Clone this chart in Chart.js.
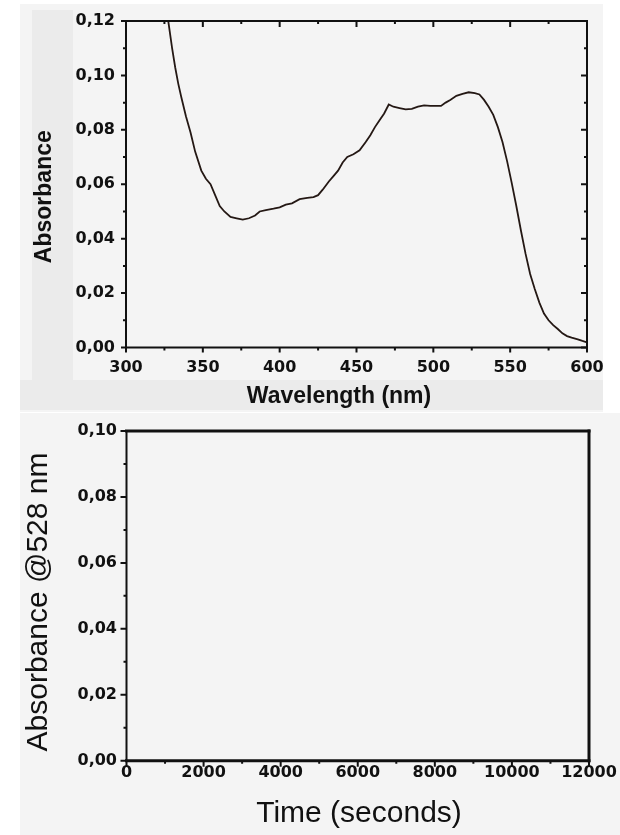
<!DOCTYPE html>
<html>
<head>
<meta charset="utf-8">
<script src="https://cdn.jsdelivr.net/npm/chart.js@4/dist/chart.umd.min.js"></script>
<style>
    body { margin: 0; background: #ffffff; width: 620px; height: 835px; position: relative; overflow: hidden; }
    .bg { position: absolute; }
    #topPanel { left: 20px; top: 4px; width: 583px; height: 408px; background: #f4f4f4; }
    #leftStrip { left: 32px; top: 10px; width: 41px; height: 370px; background: #ebebeb; }
    #bottomStrip { left: 20px; top: 380px; width: 583px; height: 30px; background: #ebebeb; }
    #bottomPanel { left: 20px; top: 413px; width: 600px; height: 422px; background: #f4f4f4; }
    #spectrumChart { position: absolute; left: 20px; top: 4px; }
    #kineticsChart { position: absolute; left: 20px; top: 413px; }
</style>
</head>
<body>
<div class="bg" id="topPanel"></div>
<div class="bg" id="leftStrip"></div>
<div class="bg" id="bottomStrip"></div>
<div class="bg" id="bottomPanel"></div>
<canvas id="spectrumChart" width="583" height="406"></canvas>
<canvas id="kineticsChart" width="600" height="422"></canvas>
<script>
// Spectrum
const wavelengths = [325, 327.5, 330, 332, 334, 336, 339, 342, 345, 349, 352, 355, 358, 361, 364, 368,
    372, 376, 380, 384, 387, 391, 396, 400, 404, 408, 413, 418, 422, 425, 428, 432, 435, 438, 441, 444,
    448, 452, 456, 459, 462, 465, 468, 471, 474, 478, 482, 486, 490, 494, 498, 502, 505, 508, 511, 515,
    519, 523, 527, 530, 533, 536, 539, 542, 545, 548, 551, 554, 557, 560, 563, 566, 569, 572, 575, 578,
    581, 584, 587, 590, 594, 597, 600];
const absorbance = [0.128, 0.120, 0.110, 0.103, 0.097, 0.092, 0.085, 0.079, 0.072, 0.065, 0.062, 0.060,
    0.056, 0.052, 0.050, 0.048, 0.0475, 0.047, 0.0475, 0.0485, 0.050, 0.0505, 0.051, 0.0515, 0.0525, 0.053,
    0.0545, 0.055, 0.0553, 0.056, 0.058, 0.061, 0.063, 0.065, 0.068, 0.070, 0.071, 0.0725, 0.0755, 0.078,
    0.081, 0.0835, 0.086, 0.0893, 0.0885, 0.088, 0.0875, 0.0877, 0.0885, 0.089, 0.0888, 0.0888, 0.0888,
    0.090, 0.091, 0.0925, 0.0932, 0.0938, 0.0935, 0.093, 0.091, 0.0885, 0.0855, 0.081, 0.0755, 0.0685,
    0.0605, 0.052, 0.043, 0.0345, 0.027, 0.0215, 0.0165, 0.0125, 0.010, 0.0082, 0.0068, 0.0052, 0.0042,
    0.0036, 0.003, 0.0024, 0.0019];

// Tick values
const waveTicks = [300, 350, 400, 450, 500, 550, 600];
const absTicks = [0, 0.02, 0.04, 0.06, 0.08, 0.10, 0.12];
const timeTicks = [0, 2000, 4000, 6000, 8000, 10000, 12000];
const abs528Ticks = [0, 0.02, 0.04, 0.06, 0.08, 0.10];

// Kinetics trace at 528 nm (empty in the picture)
const times = [];
const abs528 = [];

const tickFont = { family: 'DejaVu Sans', weight: 'bold', size: 16 };
const inkColor = '#111111';

function midpoints(arr) {
    const out = [];
    for (let i = 0; i < arr.length - 1; i++) out.push((arr[i] + arr[i + 1]) / 2);
    return out;
}

const comma = v => v.toFixed(2).replace('.', ',');

// frame, minor/major ticks and axis titles
const frameAndTicks = {
    id: 'frameAndTicks',
    afterDraw(chart, args, opts) {
        const { ctx, chartArea: area, scales } = chart;
        ctx.save();
        ctx.strokeStyle = opts.color;

        opts.marks.forEach(m => {
            const scale = scales[m.axis];
            ctx.lineWidth = m.width;
            ctx.lineCap = 'butt';
            ctx.beginPath();
            m.values.forEach(v => {
                const p = scale.getPixelForValue(v);
                if (m.side === 'bottom') { ctx.moveTo(p, area.bottom); ctx.lineTo(p, area.bottom + m.len); }
                if (m.side === 'top') { ctx.moveTo(p, area.top); ctx.lineTo(p, area.top - m.len); }
                if (m.side === 'left') { ctx.moveTo(area.left, p); ctx.lineTo(area.left - m.len, p); }
                if (m.side === 'right') { ctx.moveTo(area.right, p); ctx.lineTo(area.right + m.len, p); }
            });
            ctx.stroke();
        });

        ctx.lineCap = 'square';
        const f = opts.frame;
        const side = (w, x1, y1, x2, y2) => {
            if (!w) return;
            ctx.lineWidth = w;
            ctx.beginPath();
            ctx.moveTo(x1, y1);
            ctx.lineTo(x2, y2);
            ctx.stroke();
        };
        side(f.top, area.left, area.top, area.right, area.top);
        side(f.right, area.right, area.top, area.right, area.bottom);
        side(f.bottom, area.left, area.bottom, area.right, area.bottom);
        side(f.left, area.left, area.top, area.left, area.bottom);

        ctx.fillStyle = opts.color;
        ctx.textAlign = 'center';
        ctx.textBaseline = 'alphabetic';
        opts.titles.forEach(t => {
            ctx.save();
            ctx.font = t.font;
            ctx.translate(t.x, t.y);
            if (t.rotate) ctx.rotate(-Math.PI / 2);
            ctx.fillText(t.text, 0, 0);
            ctx.restore();
        });
        ctx.restore();
    }
};

function fixedScale(size, horizontal, values) {
    return {
        afterBuildTicks: scale => { scale.ticks = values.map(v => ({ value: v })); },
        afterFit: scale => {
            if (horizontal) scale.height = size; else scale.width = size;
            scale.paddingLeft = 0; scale.paddingRight = 0;
            scale.paddingTop = 0; scale.paddingBottom = 0;
        }
    };
}

const noGrid = { display: false, drawTicks: false };

const spectrumChart = new Chart('spectrumChart', {
    type: 'line',
    data: {
        datasets: [{
            data: wavelengths.map((w, i) => ({ x: w, y: absorbance[i] })),
            borderColor: '#241814',
            borderWidth: 1.8,
            pointRadius: 0,
            tension: 0
        }]
    },
    options: {
        responsive: false,
        animation: false,
        devicePixelRatio: 1,
        events: [],
        layout: { padding: { top: 17, right: 16, left: 0, bottom: 0 } },
        plugins: {
            legend: { display: false },
            tooltip: { enabled: false },
            frameAndTicks: {
                color: inkColor,
                frame: { top: 2, right: 2, bottom: 2, left: 2 },
                marks: [
                    { axis: 'x', side: 'bottom', values: waveTicks, len: 5, width: 2 },
                    { axis: 'x', side: 'bottom', values: midpoints(waveTicks), len: 3, width: 2 },
                    { axis: 'x', side: 'top', values: waveTicks, len: -6, width: 2 },
                    { axis: 'x', side: 'top', values: midpoints(waveTicks), len: -3, width: 2 },
                    { axis: 'y', side: 'left', values: absTicks, len: 5, width: 2 },
                    { axis: 'y', side: 'left', values: midpoints(absTicks), len: 3, width: 2 },
                    { axis: 'y', side: 'right', values: absTicks, len: -6, width: 2 },
                    { axis: 'y', side: 'right', values: midpoints(absTicks), len: -3, width: 2 }
                ],
                titles: [
                    { text: 'Wavelength (nm)', x: 319, y: 399.4, font: 'bold 23px "Liberation Sans"' },
                    { text: 'Absorbance', x: 31.4, y: 192.7, rotate: true, font: 'bold 23px "Liberation Sans"' }
                ]
            }
        },
        scales: {
            x: {
                type: 'linear', min: 300, max: 600,
                ...fixedScale(62.5, true, waveTicks),
                grid: noGrid, border: { display: false },
                ticks: { font: tickFont, color: inkColor, padding: 11, maxRotation: 0, autoSkip: false,
                    callback: v => String(v) }
            },
            y: {
                min: 0, max: 0.12,
                ...fixedScale(106, false, absTicks),
                grid: noGrid, border: { display: false },
                ticks: { font: tickFont, color: inkColor, padding: 11, autoSkip: false, callback: comma }
            }
        }
    },
    plugins: [frameAndTicks]
});

const kineticsChart = new Chart('kineticsChart', {
    type: 'line',
    data: {
        datasets: [{
            data: times.map((t, i) => ({ x: t, y: abs528[i] })),
            borderColor: '#241814',
            borderWidth: 1.8,
            pointRadius: 0
        }]
    },
    options: {
        responsive: false,
        animation: false,
        devicePixelRatio: 1,
        events: [],
        layout: { padding: { top: 18, right: 31, left: 0, bottom: 0 } },
        plugins: {
            legend: { display: false },
            tooltip: { enabled: false },
            frameAndTicks: {
                color: inkColor,
                frame: { top: 3, right: 3, bottom: 3, left: 2 },
                marks: [
                    { axis: 'x', side: 'bottom', values: timeTicks, len: 6, width: 2 },
                    { axis: 'x', side: 'bottom', values: midpoints(timeTicks), len: 3, width: 2 },
                    { axis: 'y', side: 'left', values: abs528Ticks, len: 6, width: 2 },
                    { axis: 'y', side: 'left', values: midpoints(abs528Ticks), len: 3, width: 2 }
                ],
                titles: [
                    { text: 'Time (seconds)', x: 339, y: 409, font: '30px "Liberation Sans"' },
                    { text: 'Absorbance @528 nm', x: 27, y: 189, rotate: true, font: '30px "Liberation Sans"' }
                ]
            }
        },
        scales: {
            x: {
                type: 'linear', min: 0, max: 12000,
                ...fixedScale(74.3, true, timeTicks),
                grid: noGrid, border: { display: false },
                ticks: { font: tickFont, color: inkColor, padding: 3, maxRotation: 0, autoSkip: false,
                    callback: v => String(v) }
            },
            y: {
                min: 0, max: 0.10,
                ...fixedScale(106.5, false, abs528Ticks),
                grid: noGrid, border: { display: false },
                ticks: { font: tickFont, color: inkColor, padding: 9.5, autoSkip: false, callback: comma }
            }
        }
    },
    plugins: [frameAndTicks]
});
</script>
</body>
</html>
